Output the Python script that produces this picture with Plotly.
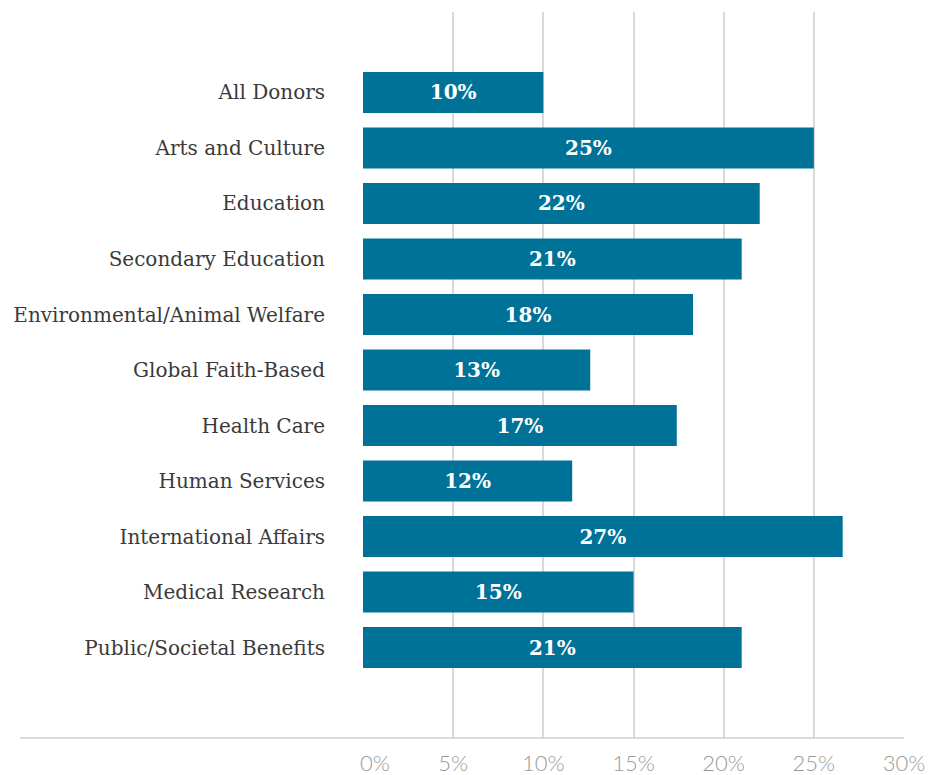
import plotly.graph_objects as go

# Share of donors, by cause area (percent)
categories = [
    "All Donors",
    "Arts and Culture",
    "Education",
    "Secondary Education",
    "Environmental/Animal Welfare",
    "Global Faith-Based",
    "Health Care",
    "Human Services",
    "International Affairs",
    "Medical Research",
    "Public/Societal Benefits",
]
values = [10.0, 25.0, 22.0, 21.0, 18.3, 12.6, 17.4, 11.6, 26.6, 15.0, 21.0]
tick_values = [0, 5, 10, 15, 20, 25, 30]
tick_labels = ["0%", "5%", "10%", "15%", "20%", "25%", "30%"]

BAR = "#007298"
GRID = "#d9d9d9"

# the first tick label sits a little to the right of the zero gridline
shown_ticks = ["\u00a0" * 4 + tick_labels[0]] + tick_labels[1:]

fig = go.Figure(
    go.Bar(
        x=values,
        y=categories,
        orientation="h",
        marker=dict(color=BAR, line=dict(width=0)),
        texttemplate="%{x:.0f}%",
        textposition="inside",
        insidetextanchor="middle",
        textangle=0,
        textfont=dict(family="DejaVu Serif", size=20, color="white", weight="bold"),
        hoverinfo="skip",
    )
)

fig.update_layout(
    width=932,
    height=775,
    margin=dict(l=363, r=28, t=12, b=37),
    paper_bgcolor="white",
    plot_bgcolor="white",
    showlegend=False,
    bargap=0.26,
    uniformtext=dict(minsize=8, mode="show"),
    xaxis=dict(
        range=[0, 30],
        tickvals=tick_values,
        ticktext=shown_ticks,
        showgrid=True,
        gridcolor=GRID,
        gridwidth=1.5,
        zeroline=False,
        showline=False,
        ticks="",
        automargin=False,
        ticklabelstandoff=10,
        tickfont=dict(family="Lato", size=22, color="#9a9a9a", weight=300),
        fixedrange=True,
    ),
    yaxis=dict(
        categoryorder="array",
        categoryarray=categories,
        range=[10 + 1.63, -1.45],
        showgrid=False,
        zeroline=False,
        showline=False,
        ticks="",
        automargin=False,
        ticklabelstandoff=37,
        tickfont=dict(family="DejaVu Serif", size=20, color="#3a3a3a"),
        fixedrange=True,
    ),
    shapes=[
        dict(
            type="line",
            xref="paper",
            yref="paper",
            x0=-0.634,
            x1=1,
            y0=0,
            y1=0,
            line=dict(color="#cfcfcf", width=1.5),
        )
    ],
)

fig.write_html("out.html")
